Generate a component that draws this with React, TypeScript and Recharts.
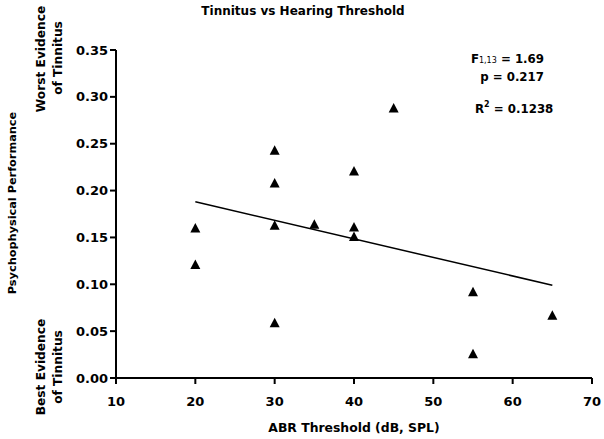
import React from 'react';
import { ComposedChart, Scatter, XAxis, YAxis, ReferenceLine, Customized } from 'recharts';

const xValues = [20, 20, 30, 30, 30, 30, 35, 40, 40, 40, 45, 55, 55, 65];
const yValues = [0.160, 0.121, 0.243, 0.208, 0.163, 0.059, 0.164, 0.221, 0.161, 0.151, 0.288, 0.092, 0.026, 0.067];
const xTicks = [10, 20, 30, 40, 50, 60, 70];
const yTicks = [0, 0.05, 0.1, 0.15, 0.2, 0.25, 0.3, 0.35];
const fitLine = [{ x: 20, y: 0.188 }, { x: 65, y: 0.099 }];

const points = xValues.map((x, i) => ({ x, y: yValues[i] }));

const FONT = 'DejaVu Sans';

const Tri = (props: any) => {
  const { cx, cy } = props;
  if (cx == null || cy == null) return null;
  return (
    <polygon
      points={`${cx - 5},${cy + 4.5} ${cx + 5},${cy + 4.5} ${cx},${cy - 5}`}
      fill="#000"
    />
  );
};

const Texts = () => (
  <g fontFamily={FONT} fontWeight="bold" fill="#000">
    <text x={303} y={14.5} textAnchor="middle" fontSize={12}>Tinnitus vs Hearing Threshold</text>
    <text x={354} y={432} textAnchor="middle" fontSize={12.4}>ABR Threshold (dB, SPL)</text>
    <text x={16} y={203} textAnchor="middle" fontSize={11.3} transform="rotate(-90 16 203)">Psychophysical Performance</text>
    <text x={45} y={59} textAnchor="middle" fontSize={12.2} transform="rotate(-90 45 59)">Worst Evidence</text>
    <text x={62} y={58} textAnchor="middle" fontSize={12.2} transform="rotate(-90 62 58)">of Tinnitus</text>
    <text x={45} y={367} textAnchor="middle" fontSize={12.2} transform="rotate(-90 45 367)">Best Evidence</text>
    <text x={62} y={367} textAnchor="middle" fontSize={12.2} transform="rotate(-90 62 367)">of Tinnitus</text>
    <text x={544} y={63} fontSize={11.8} textAnchor="end">
      F<tspan fontSize={8} fontWeight="normal">1,13</tspan> = 1.69
    </text>
    <text x={544} y={81} fontSize={11.8} textAnchor="end">p = 0.217</text>
    <text x={475} y={113} fontSize={11.8}>
      R<tspan fontSize={8} dy={-6}>2</tspan><tspan dy={6}> = 0.1238</tspan>
    </text>
  </g>
);

const tickStyle = { fontFamily: FONT, fontWeight: 'bold', fontSize: 13, fill: '#000' } as any;

export default function App() {
  return (
    <div style={{ position: 'absolute', left: 0, top: 0, background: '#fff' }}>
      <ComposedChart
        width={604}
        height={439}
        margin={{ top: 50, right: 12, bottom: 0, left: 0 }}
      >
        <XAxis
          type="number"
          dataKey="x"
          domain={[10, 70]}
          ticks={xTicks}
          height={61}
          tickSize={6}
          tickMargin={13}
          tick={tickStyle}
          axisLine={{ stroke: '#000', strokeWidth: 2 }}
          tickLine={{ stroke: '#000', strokeWidth: 2 }}
          allowDataOverflow
        />
        <YAxis
          type="number"
          dataKey="y"
          domain={[0, 0.35]}
          ticks={yTicks}
          width={116}
          tickSize={6}
          tickMargin={2}
          tick={tickStyle}
          tickFormatter={(v: number) => v.toFixed(2)}
          axisLine={{ stroke: '#000', strokeWidth: 2 }}
          tickLine={{ stroke: '#000', strokeWidth: 2 }}
          allowDataOverflow
        />
        <ReferenceLine segment={fitLine} stroke="#000" strokeWidth={1.5} ifOverflow="visible" />
        <Scatter data={points} shape={<Tri />} isAnimationActive={false} />
        <Customized component={Texts} />
      </ComposedChart>
    </div>
  );
}
